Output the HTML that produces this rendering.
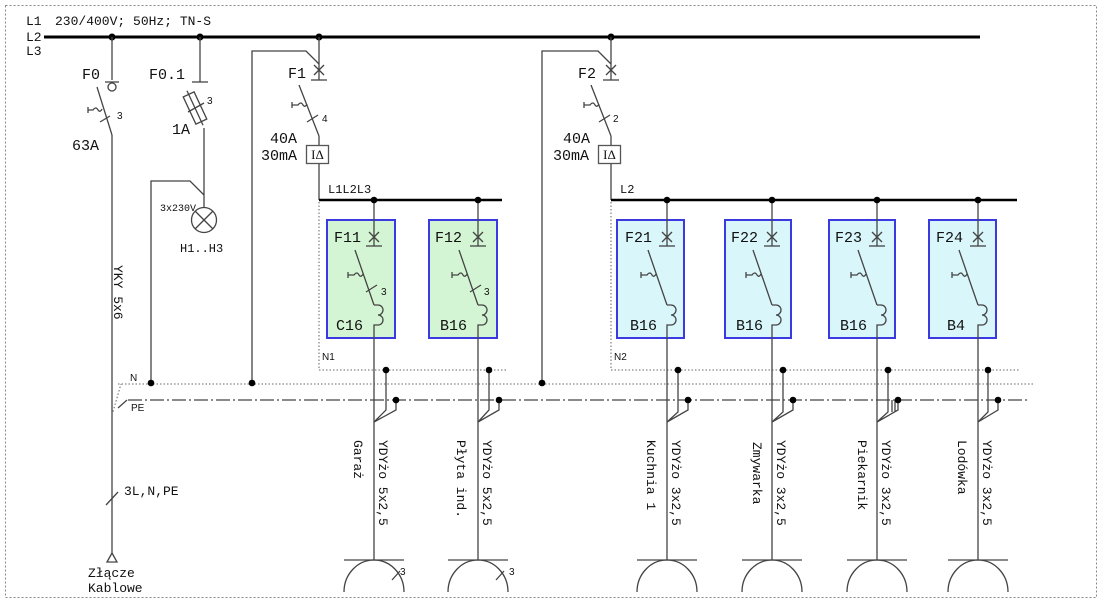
<!DOCTYPE html>
<html><head><meta charset="utf-8"><style>
html,body{margin:0;padding:0;background:#fff}
svg{display:block}
text{font-family:"Liberation Mono","DejaVu Sans Mono",monospace;fill:#111}
.s{font-family:"Liberation Sans","DejaVu Sans",sans-serif}
.r{font-family:"Liberation Serif","DejaVu Serif",serif}
</style></head><body>
<svg width="1103" height="604" viewBox="0 0 1103 604" xmlns="http://www.w3.org/2000/svg">
<rect x="5.5" y="5.5" width="1091" height="592" fill="none" stroke="#888" stroke-width="1" stroke-dasharray="2,2"/>
<text x="26" y="25" font-size="13">L1</text>
<text x="55" y="25" font-size="13">230/400V; 50Hz; TN-S</text>
<text x="26" y="41" font-size="13">L2</text>
<text x="26" y="55" font-size="13">L3</text>
<line x1="44" y1="37" x2="980" y2="37" stroke="#000" stroke-width="3"/>
<g fill="#000">
<circle cx="112" cy="37" r="3.5"/><circle cx="200" cy="37" r="3.5"/><circle cx="319" cy="37" r="3.5"/><circle cx="611" cy="37" r="3.5"/>
</g>
<g stroke="#444" stroke-width="1.3" fill="none">
<line x1="112" y1="37" x2="112" y2="80"/>
<line x1="105" y1="82" x2="119" y2="82"/>
<circle cx="112" cy="87" r="4"/>
<line x1="97" y1="87" x2="112" y2="135"/>
<path d="M88,107 v6 M88,110 h5 q3,-4 5,0 q2,3 4,-1"/>
<line x1="100" y1="122" x2="110" y2="116"/>
<line x1="112" y1="135" x2="112" y2="553"/>
<path d="M107,562 L112,553 L117,562 Z"/>
<line x1="106" y1="505" x2="118" y2="492"/>
<line x1="200" y1="37" x2="200" y2="82"/>
<line x1="192" y1="82" x2="208" y2="82"/>
<g transform="translate(195,108) rotate(-25)">
<rect x="-6" y="-15" width="12" height="30"/>
<line x1="0" y1="-19" x2="0" y2="19"/>
</g>
<line x1="188" y1="112" x2="204" y2="103"/>
<line x1="204" y1="128" x2="204" y2="207"/>
<circle cx="204" cy="220" r="12.5"/>
<line x1="195" y1="211" x2="213" y2="229"/><line x1="213" y1="211" x2="195" y2="229"/>
<path d="M204,195 L190,181 H151 V383"/>
<line x1="319" y1="37" x2="319" y2="80"/>
<path d="M252,383 V51 H306 L319,64"/>
<line x1="314" y1="65" x2="324" y2="75"/><line x1="324" y1="65" x2="314" y2="75"/>
<line x1="311" y1="80" x2="327" y2="80"/>
<line x1="299" y1="85" x2="319" y2="136"/>
<path d="M292,102 v6 M292,105 h6 q3,-4 5,0 q2,3 4,-1"/>
<line x1="307" y1="122" x2="318" y2="115"/>
<line x1="319" y1="136" x2="319" y2="145"/>
<rect x="306.5" y="145.5" width="22" height="18" stroke="#555" fill="#fff"/>
<line x1="319" y1="164" x2="319" y2="200"/>
<line x1="611" y1="37" x2="611" y2="80"/>
<path d="M542,383 V51 H598 L611,64"/>
<line x1="606" y1="65" x2="616" y2="75"/><line x1="616" y1="65" x2="606" y2="75"/>
<line x1="603" y1="80" x2="619" y2="80"/>
<line x1="591" y1="85" x2="611" y2="136"/>
<path d="M584,102 v6 M584,105 h6 q3,-4 5,0 q2,3 4,-1"/>
<line x1="599" y1="122" x2="610" y2="115"/>
<line x1="611" y1="136" x2="611" y2="145"/>
<rect x="598.5" y="145.5" width="22" height="18" stroke="#555" fill="#fff"/>
<line x1="611" y1="164" x2="611" y2="200"/>
</g>
<text x="317.5" y="159" font-size="13" class="r" text-anchor="middle">IΔ</text>
<text x="609.5" y="159" font-size="13" class="r" text-anchor="middle">IΔ</text>
<line x1="319" y1="200" x2="502" y2="200" stroke="#000" stroke-width="2.5"/>
<line x1="611" y1="200" x2="1017" y2="200" stroke="#000" stroke-width="2.5"/>
<g stroke="#666" stroke-width="1" fill="none" stroke-dasharray="1.5,2">
<path d="M319,202 V370 H508"/>
<path d="M611,202 V370 H1020"/>
<line x1="118" y1="384" x2="1035" y2="384"/>
<path d="M112,415 L121,384"/>
</g>
<g stroke="#444" stroke-width="1.2" fill="none" stroke-dasharray="14,3,2,3">
<line x1="128" y1="400" x2="1030" y2="400"/>
</g>
<line x1="118" y1="408" x2="127" y2="400" stroke="#444" stroke-width="1.2"/>
<g fill="#000"><circle cx="151" cy="383" r="3.3"/><circle cx="252" cy="383" r="3.3"/><circle cx="542" cy="383" r="3.3"/></g>
<g stroke="#3a3ae0" stroke-width="2">
<rect x="327" y="220" width="68" height="118" fill="#d4f5d4"/>
<rect x="429" y="220" width="68" height="118" fill="#d4f5d4"/>
<rect x="617" y="220" width="67" height="118" fill="#d9f6fb"/>
<rect x="725" y="220" width="66" height="118" fill="#d9f6fb"/>
<rect x="829" y="220" width="66" height="118" fill="#d9f6fb"/>
<rect x="929" y="220" width="67" height="118" fill="#d9f6fb"/>
</g>
<g stroke="#444" stroke-width="1.3" fill="none">
<g transform="translate(374,0)">
<line x1="0" y1="200" x2="0" y2="246"/>
<line x1="-5" y1="232" x2="5" y2="242"/><line x1="5" y1="232" x2="-5" y2="242"/>
<line x1="-8" y1="246" x2="8" y2="246"/>
<line x1="-19" y1="250" x2="0" y2="305"/>
<path d="M-26,272 v6 M-26,275 h6 q3,-4 5,0 q2,3 4,-1"/>
<line x1="-8" y1="292" x2="3" y2="285"/>
<path d="M0,305 h4 a5,5 0 0 1 0,10 a5,5 0 0 1 0,10 h-4 V560"/>
<path d="M12,370 V410 L0,422 M22,400 V410 L0,422"/>
<line x1="-30" y1="560" x2="30" y2="560"/><path d="M-30,592 A30,32 0 0 1 30,592"/>
<line x1="18" y1="580" x2="26" y2="571"/>
</g>
<g transform="translate(478,0)">
<line x1="0" y1="200" x2="0" y2="246"/>
<line x1="-5" y1="232" x2="5" y2="242"/><line x1="5" y1="232" x2="-5" y2="242"/>
<line x1="-8" y1="246" x2="8" y2="246"/>
<line x1="-19" y1="250" x2="0" y2="305"/>
<path d="M-26,272 v6 M-26,275 h6 q3,-4 5,0 q2,3 4,-1"/>
<line x1="-8" y1="292" x2="3" y2="285"/>
<path d="M0,305 h4 a5,5 0 0 1 0,10 a5,5 0 0 1 0,10 h-4 V560"/>
<path d="M11,370 V410 L0,422 M21,400 V410 L0,422"/>
<line x1="-30" y1="560" x2="30" y2="560"/><path d="M-30,592 A30,32 0 0 1 30,592"/>
<line x1="18" y1="580" x2="26" y2="571"/>
</g>
<g transform="translate(667,0)">
<line x1="0" y1="200" x2="0" y2="246"/>
<line x1="-5" y1="232" x2="5" y2="242"/><line x1="5" y1="232" x2="-5" y2="242"/>
<line x1="-8" y1="246" x2="8" y2="246"/>
<line x1="-19" y1="250" x2="0" y2="305"/>
<path d="M-26,272 v6 M-26,275 h6 q3,-4 5,0 q2,3 4,-1"/>
<path d="M0,305 h4 a5,5 0 0 1 0,10 a5,5 0 0 1 0,10 h-4 V560"/>
<path d="M11,370 V412 L0,422 M21,400 V410 L0,422"/>
<line x1="-30" y1="560" x2="30" y2="560"/><path d="M-30,592 A30,32 0 0 1 30,592"/>
</g>
<g transform="translate(772,0)">
<line x1="0" y1="200" x2="0" y2="246"/>
<line x1="-5" y1="232" x2="5" y2="242"/><line x1="5" y1="232" x2="-5" y2="242"/>
<line x1="-8" y1="246" x2="8" y2="246"/>
<line x1="-19" y1="250" x2="0" y2="305"/>
<path d="M-26,272 v6 M-26,275 h6 q3,-4 5,0 q2,3 4,-1"/>
<path d="M0,305 h4 a5,5 0 0 1 0,10 a5,5 0 0 1 0,10 h-4 V560"/>
<path d="M11,370 V412 L0,422 M21,400 V410 L0,422"/>
<line x1="-30" y1="560" x2="30" y2="560"/><path d="M-30,592 A30,32 0 0 1 30,592"/>
</g>
<g transform="translate(877,0)">
<line x1="0" y1="200" x2="0" y2="246"/>
<line x1="-5" y1="232" x2="5" y2="242"/><line x1="5" y1="232" x2="-5" y2="242"/>
<line x1="-8" y1="246" x2="8" y2="246"/>
<line x1="-19" y1="250" x2="0" y2="305"/>
<path d="M-26,272 v6 M-26,275 h6 q3,-4 5,0 q2,3 4,-1"/>
<path d="M0,305 h4 a5,5 0 0 1 0,10 a5,5 0 0 1 0,10 h-4 V560"/>
<path d="M11,370 V412 L0,422 M21,400 V410 L0,422 M15,400 V412 M18,400 V412"/>
<line x1="-30" y1="560" x2="30" y2="560"/><path d="M-30,592 A30,32 0 0 1 30,592"/>
</g>
<g transform="translate(978,0)">
<line x1="0" y1="200" x2="0" y2="246"/>
<line x1="-5" y1="232" x2="5" y2="242"/><line x1="5" y1="232" x2="-5" y2="242"/>
<line x1="-8" y1="246" x2="8" y2="246"/>
<line x1="-19" y1="250" x2="0" y2="305"/>
<path d="M-26,272 v6 M-26,275 h6 q3,-4 5,0 q2,3 4,-1"/>
<path d="M0,305 h4 a5,5 0 0 1 0,10 a5,5 0 0 1 0,10 h-4 V560"/>
<path d="M10,370 V412 L0,422 M20,400 V410 L0,422"/>
<line x1="-30" y1="560" x2="30" y2="560"/><path d="M-30,592 A30,32 0 0 1 30,592"/>
</g>
</g>
<g fill="#000">
<circle cx="374" cy="200" r="3.3"/><circle cx="478" cy="200" r="3.3"/><circle cx="667" cy="200" r="3.3"/><circle cx="772" cy="200" r="3.3"/><circle cx="877" cy="200" r="3.3"/><circle cx="978" cy="200" r="3.3"/>
<circle cx="386" cy="370" r="3.3"/><circle cx="489" cy="370" r="3.3"/><circle cx="678" cy="370" r="3.3"/><circle cx="783" cy="370" r="3.3"/><circle cx="888" cy="370" r="3.3"/><circle cx="988" cy="370" r="3.3"/>
<circle cx="396" cy="400" r="3.3"/><circle cx="499" cy="400" r="3.3"/><circle cx="688" cy="400" r="3.3"/><circle cx="793" cy="400" r="3.3"/><circle cx="898" cy="400" r="3.3"/><circle cx="998" cy="400" r="3.3"/>
</g>
<text x="82" y="79" font-size="15">F0</text>
<text x="117" y="119" font-size="10" class="s">3</text>
<text x="72" y="150" font-size="15">63A</text>
<text x="149" y="79" font-size="15">F0.1</text>
<text x="207" y="104" font-size="10" class="s">3</text>
<text x="172" y="134" font-size="15">1A</text>
<text x="160" y="211" font-size="10">3x230V</text>
<text x="180" y="252" font-size="12">H1..H3</text>
<text x="288" y="78" font-size="15">F1</text>
<text x="322" y="122" font-size="10" class="s">4</text>
<text x="270" y="143" font-size="15">40A</text>
<text x="261" y="160" font-size="15">30mA</text>
<text x="328" y="193" font-size="12">L1L2L3</text>
<text x="578" y="78" font-size="15">F2</text>
<text x="613" y="122" font-size="10" class="s">2</text>
<text x="563" y="143" font-size="15">40A</text>
<text x="553" y="160" font-size="15">30mA</text>
<text x="620" y="193" font-size="12">L2</text>
<text x="322" y="360" font-size="10" class="s">N1</text>
<text x="614" y="360" font-size="10" class="s">N2</text>
<text x="130" y="381" font-size="10" class="s">N</text>
<text x="131" y="411" font-size="10" class="s">PE</text>
<text x="124" y="495" font-size="13">3L,N,PE</text>
<text x="88" y="577" font-size="13">Złącze</text>
<text x="88" y="592" font-size="13">Kablowe</text>
<text x="381" y="295" font-size="10" class="s">3</text>
<text x="484" y="295" font-size="10" class="s">3</text>
<text x="400" y="575" font-size="10" class="s">3</text>
<text x="509" y="575" font-size="10" class="s">3</text>
<g font-size="15">
<text x="334" y="242">F11</text><text x="336" y="330">C16</text>
<text x="435" y="242">F12</text><text x="440" y="330">B16</text>
<text x="625" y="242">F21</text><text x="630" y="330">B16</text>
<text x="731" y="242">F22</text><text x="736" y="330">B16</text>
<text x="835" y="242">F23</text><text x="840" y="330">B16</text>
<text x="936" y="242">F24</text><text x="947" y="330">B4</text>
</g>
<g font-size="13">
<text transform="translate(114,265) rotate(90)">YKY 5x6</text>
<text transform="translate(354,440) rotate(90)">Garaż</text>
<text transform="translate(379,440) rotate(90)">YDYżo 5x2,5</text>
<text transform="translate(457,440) rotate(90)">Płyta ind.</text>
<text transform="translate(483,440) rotate(90)">YDYżo 5x2,5</text>
<text transform="translate(647,440) rotate(90)">Kuchnia 1</text>
<text transform="translate(672,440) rotate(90)">YDYżo 3x2,5</text>
<text transform="translate(753,442) rotate(90)">Zmywarka</text>
<text transform="translate(777,440) rotate(90)">YDYżo 3x2,5</text>
<text transform="translate(858,440) rotate(90)">Piekarnik</text>
<text transform="translate(882,440) rotate(90)">YDYżo 3x2,5</text>
<text transform="translate(958,440) rotate(90)">Lodówka</text>
<text transform="translate(983,440) rotate(90)">YDYżo 3x2,5</text>
</g>
</svg>
</body></html>
